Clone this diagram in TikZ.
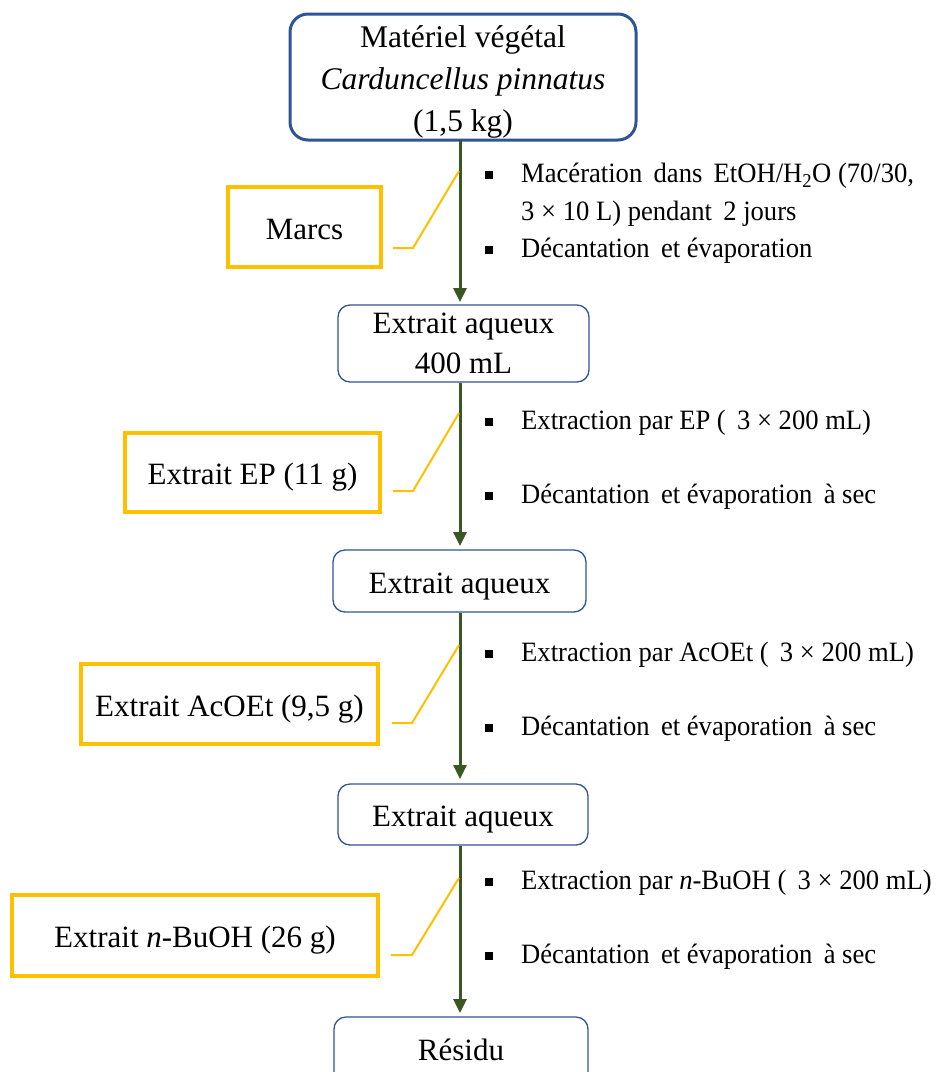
\documentclass[tikz,border=0pt]{standalone}
\usepackage{fontspec}
\setmainfont{Liberation Serif}
\newfontfamily\stepfont[FakeStretch=0.95]{Liberation Serif}
\usetikzlibrary{arrows.meta}
\definecolor{boxblue}{HTML}{2F5597}
\definecolor{gold}{HTML}{FFC000}
\definecolor{flowgreen}{HTML}{385723}
\tikzset{
  x=1pt, y=-1pt,
  mainbox/.style={draw=boxblue, line width=3pt, rounded corners=18pt, inner sep=0pt},
  mainlabel/.style={align=center, inner sep=0pt, font=\fontsize{31.5}{42}\selectfont},
  stagebox/.style={draw=boxblue, line width=1.3pt, rounded corners=12pt, align=center,
    inner sep=0pt, font=\fontsize{31}{40}\selectfont},
  oneline/.style={text height=24pt, text depth=0pt},
  extractbox/.style={draw=gold, line width=3.5pt, inner sep=0pt, oneline,
    font=\fontsize{31}{36}\selectfont},
  flow/.style={draw=flowgreen, line width=3pt, shorten >=3pt,
    -{Triangle[width=13pt,length=14pt]}},
  link/.style={draw=gold, line width=2pt},
  bulletsq/.style={fill=black, inner sep=0pt, minimum size=8pt},
  steptext/.style={anchor=west, inner sep=0pt, font=\stepfont\fontsize{28}{32}\selectfont}
}
\begin{document}
\begin{tikzpicture}
\clip (0,0) rectangle (942,1072);
\fill[white] (0,0) rectangle (942,1072);

% main column
\node[mainbox, minimum width=346pt, minimum height=126pt] (plant) at (463,77) {};
\node[mainlabel] (plantlbl) at (463,82)
  {Matériel végétal\\\textit{Carduncellus pinnatus}\\(1,5 kg)};
\node[stagebox, minimum width=251pt, minimum height=77pt] (aq1) at (463.5,343.5)
  {Extrait aqueux\\400 mL};
\node[stagebox, oneline, minimum width=253pt, minimum height=62pt] (aq2) at (459.5,581)
  {Extrait aqueux};
\node[stagebox, oneline, minimum width=250pt, minimum height=61pt] (aq3) at (463,814.5)
  {Extrait aqueux};
\node[stagebox, text height=24pt, text depth=8pt, minimum width=254pt, minimum height=70pt] (res) at (461,1052)
  {Résidu};

% flow arrows along x = 460
\coordinate (a1s) at (460,140);  \coordinate (a1e) at (460,305);
\coordinate (a2s) at (460,383);  \coordinate (a2e) at (460,549);
\coordinate (a3s) at (460,613);  \coordinate (a3e) at (460,782);
\coordinate (a4s) at (460,846);  \coordinate (a4e) at (460,1016);
\draw[flow] (a1s) -- (a1e);
\draw[flow] (a2s) -- (a2e);
\draw[flow] (a3s) -- (a3e);
\draw[flow] (a4s) -- (a4e);

% side products
\node[extractbox, minimum width=153pt, minimum height=80pt] (marcs) at (304.5,227) {Marcs};
\node[extractbox, minimum width=255pt, minimum height=79pt] (ep) at (252.5,472.5) {Extrait EP (11 g)};
\node[extractbox, minimum width=297pt, minimum height=80pt] (acoet) at (229.5,704) {Extrait AcOEt (9,5 g)};
\node[extractbox, minimum width=366pt, minimum height=81pt] (buoh) at (195,935.5) {Extrait \textit{n}-BuOH (26 g)};

% links from side products to the flow
\coordinate (m1) at (393,248);  \coordinate (j1) at (459,171);
\coordinate (m2) at (393,491);  \coordinate (j2) at (459,413);
\coordinate (m3) at (392,723);  \coordinate (j3) at (459,645);
\coordinate (m4) at (391,955);  \coordinate (j4) at (459,878);
\draw[link] (m1) -- ++(20,0) -- (j1);
\draw[link] (m2) -- ++(20,0) -- (j2);
\draw[link] (m3) -- ++(20,0) -- (j3);
\draw[link] (m4) -- ++(21,0) -- (j4);

% operating steps
\node[bulletsq] (b11) at (489,175) {};
\node[steptext] (t11) at (521,176) {Macération\, dans\, EtOH/H\textsubscript{2}O (70/30,};
\node[steptext] (t12) at (521,214) {3 × 10 L) pendant\, 2 jours};
\node[bulletsq] (b12) at (489,250) {};
\node[steptext] (t13) at (521,251) {Décantation\, et évaporation};

\node[bulletsq] (b21) at (489,422) {};
\node[steptext] (t21) at (521,423) {Extraction par EP (\, 3 × 200 mL)};
\node[bulletsq] (b22) at (489,496) {};
\node[steptext] (t22) at (521,497) {Décantation\, et évaporation\, à sec};

\node[bulletsq] (b31) at (489,654) {};
\node[steptext] (t31) at (521,655) {Extraction par AcOEt (\, 3 × 200 mL)};
\node[bulletsq] (b32) at (489,728) {};
\node[steptext] (t32) at (521,729) {Décantation\, et évaporation\, à sec};

\node[bulletsq] (b41) at (489,882) {};
\node[steptext] (t41) at (521,883) {Extraction par \textit{n}-BuOH (\, 3 × 200 mL)};
\node[bulletsq] (b42) at (489,956) {};
\node[steptext] (t42) at (521,957) {Décantation\, et évaporation\, à sec};
\end{tikzpicture}
\end{document}
